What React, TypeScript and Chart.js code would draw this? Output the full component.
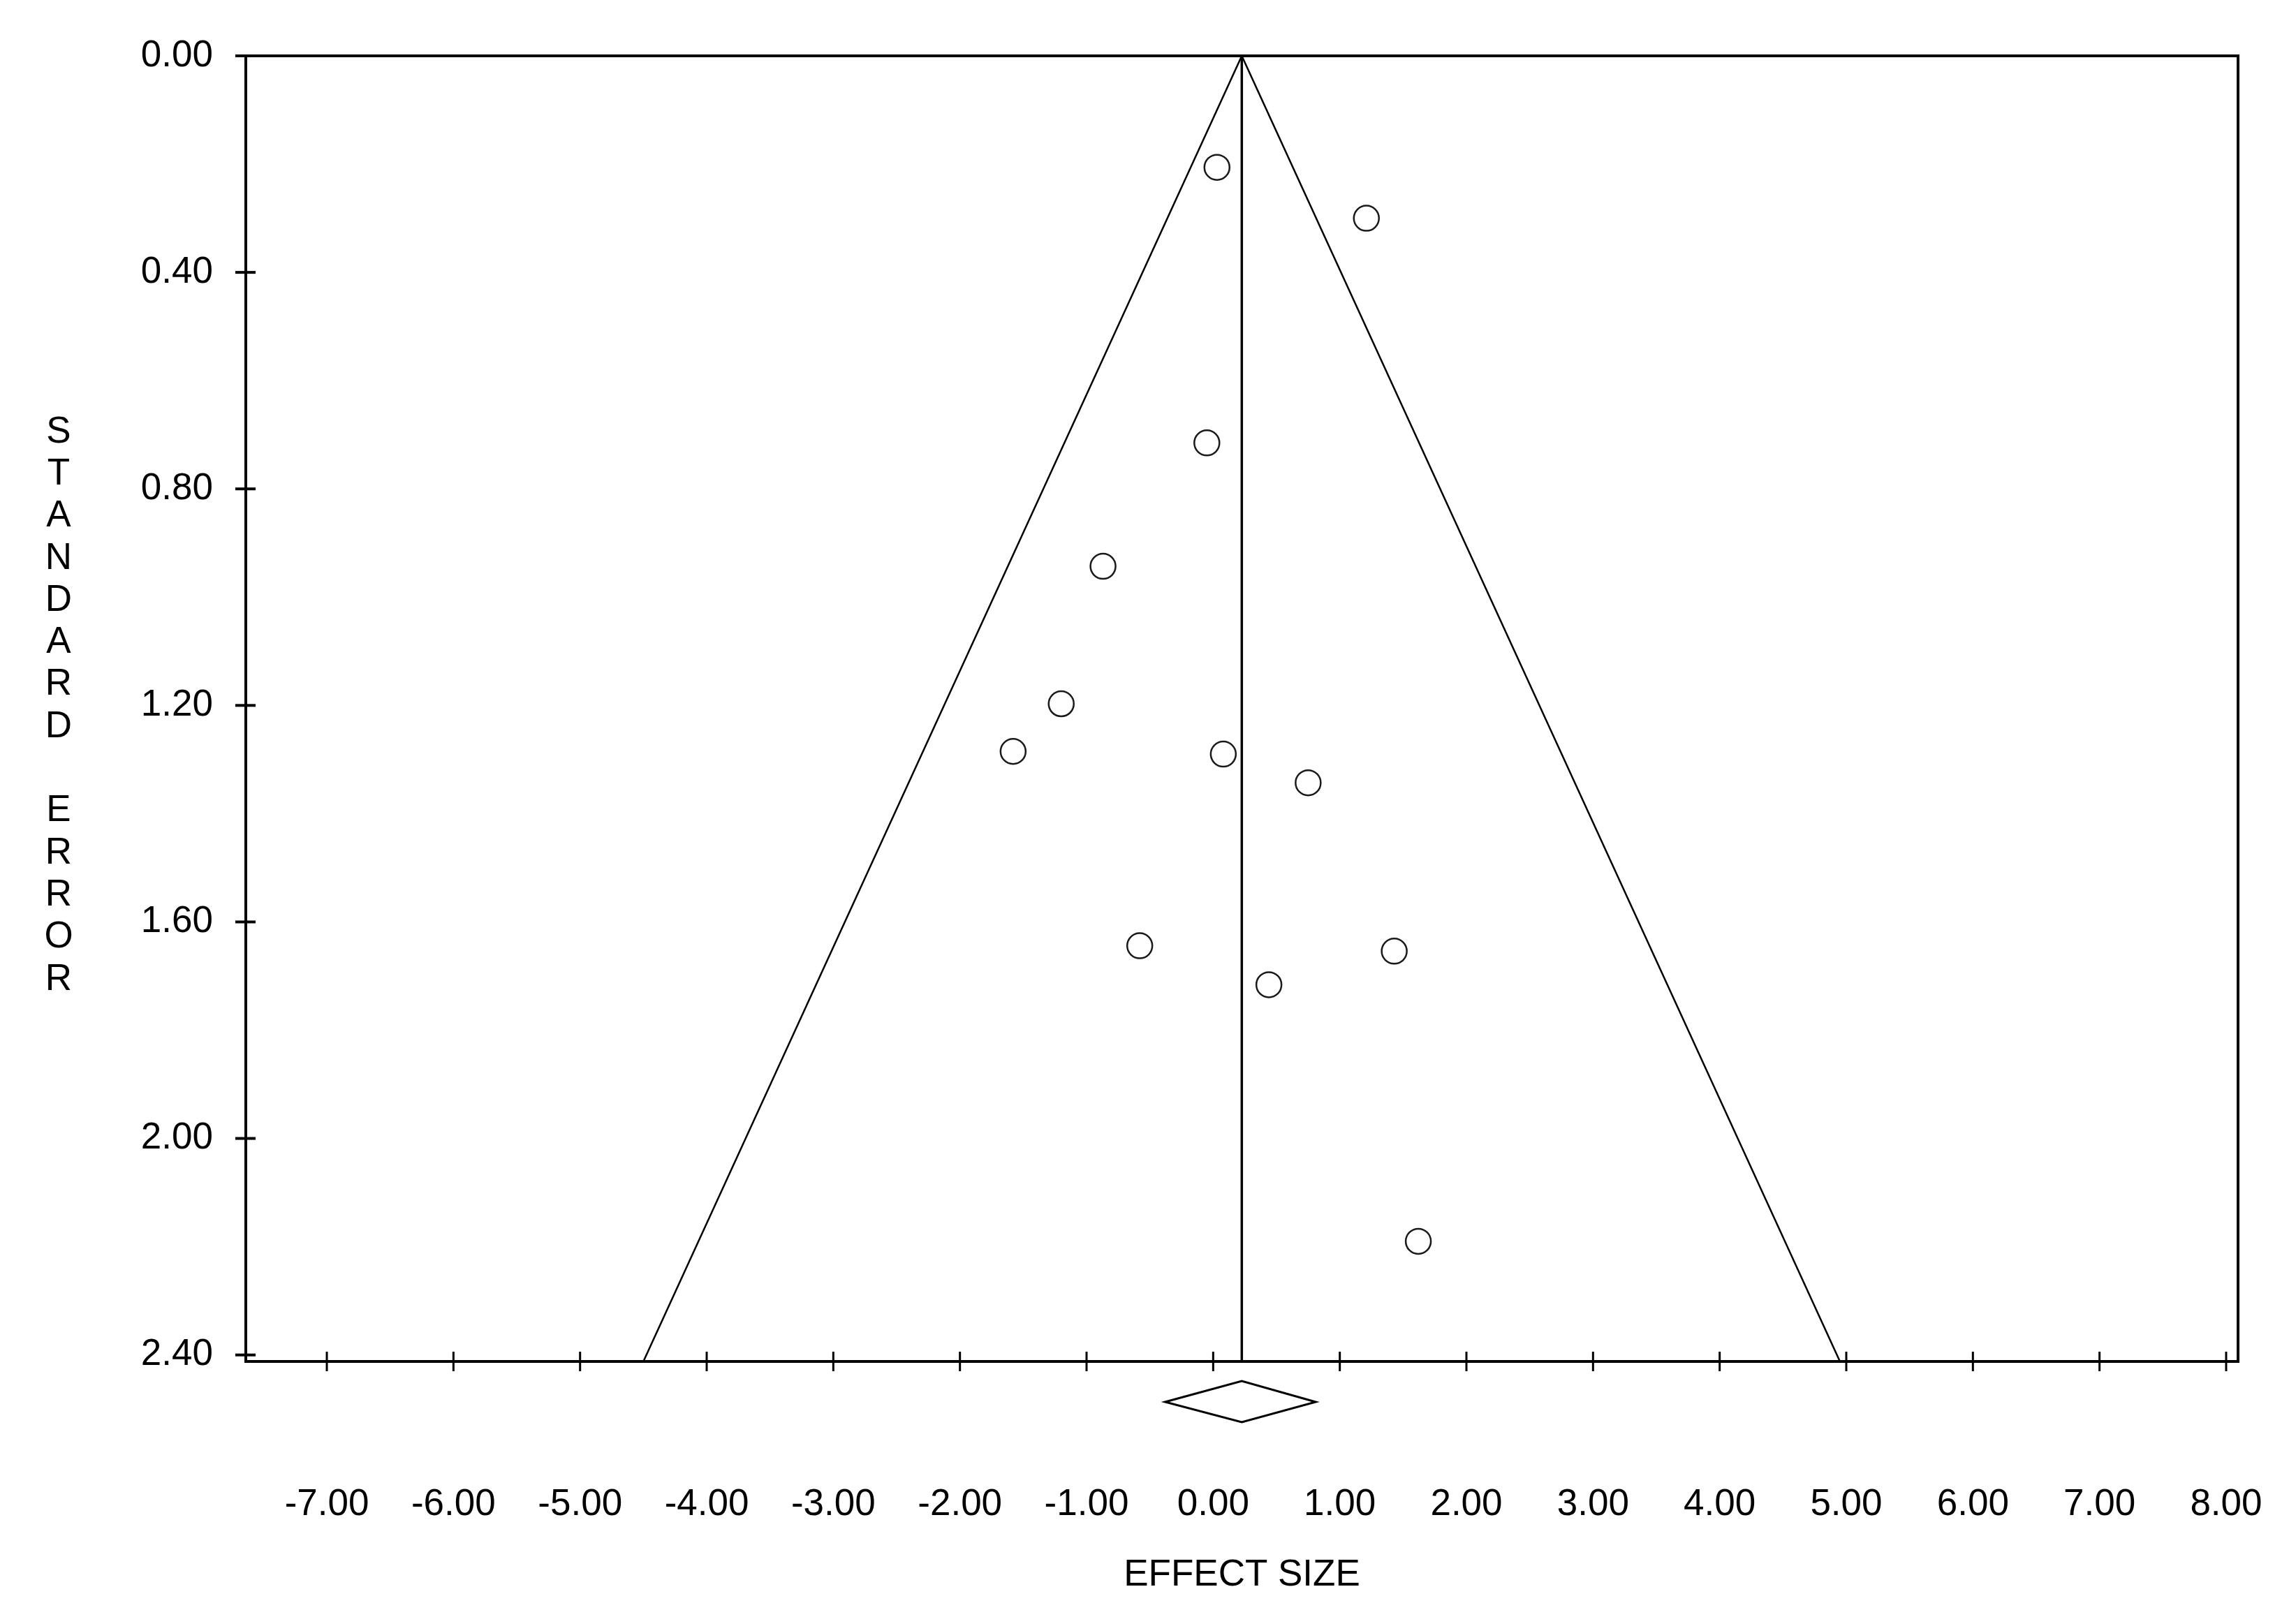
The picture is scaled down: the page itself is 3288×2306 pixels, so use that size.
import React, { useEffect, useRef } from "react";
import { Chart, registerables } from "chart.js";

Chart.register(...registerables);

// ---- data ----
const effectSizes = [0.03, 1.21, -0.05, -0.87, -1.2, -1.58, 0.08, 0.75, -0.58, 1.43, 0.44, 1.62];
const standardErrors = [0.206, 0.3, 0.715, 0.943, 1.197, 1.285, 1.29, 1.343, 1.644, 1.654, 1.716, 2.19];

const pooledEffect = 0.226;
const pooledCI = [-0.38, 0.81];
const funnelSE = [0, 2.412];
const funnelLeftX = [0.226, -4.5];
const funnelRightX = [0.226, 4.95];

const xTickValues = [-7, -6, -5, -4, -3, -2, -1, 0, 1, 2, 3, 4, 5, 6, 7, 8];
const yTickValues = [0, 0.4, 0.8, 1.2, 1.6, 2.0, 2.4];
const xAxisTitle = "EFFECT SIZE";
const yAxisTitle = "STANDARD ERROR";

const FONT = "'Liberation Sans', Arial, sans-serif";

const framePlugin = {
  id: "framePlugin",
  afterDraw(chart: any) {
    const { ctx, chartArea } = chart;
    const xs = chart.scales.x;
    const ys = chart.scales.y;
    const { left, right, top, bottom } = chartArea;
    ctx.save();
    ctx.strokeStyle = "#000";
    // frame
    ctx.lineWidth = 4;
    ctx.beginPath();
    ctx.moveTo(left, top);
    ctx.lineTo(right, top);
    ctx.lineTo(right, bottom);
    ctx.lineTo(left, bottom);
    ctx.closePath();
    ctx.stroke();
    // y ticks (crossing)
    ctx.lineWidth = 4;
    yTickValues.forEach((v) => {
      const y = ys.getPixelForValue(v);
      ctx.beginPath();
      ctx.moveTo(left - 15, y);
      ctx.lineTo(left + 14, y);
      ctx.stroke();
    });
    // x ticks (crossing)
    ctx.lineWidth = 3;
    xTickValues.forEach((v) => {
      const x = xs.getPixelForValue(v);
      ctx.beginPath();
      ctx.moveTo(x, bottom - 14);
      ctx.lineTo(x, bottom + 14);
      ctx.stroke();
    });
    // diamond for pooled estimate
    const cx = xs.getPixelForValue(pooledEffect);
    const lx = xs.getPixelForValue(pooledCI[0]);
    const rx = xs.getPixelForValue(pooledCI[1]);
    const midY = bottom + 58;
    ctx.lineWidth = 3;
    ctx.beginPath();
    ctx.moveTo(lx, midY);
    ctx.lineTo(cx, midY - 30);
    ctx.lineTo(rx, midY);
    ctx.lineTo(cx, midY + 29);
    ctx.closePath();
    ctx.stroke();
    // vertical y-axis title, stacked letters
    ctx.fillStyle = "#000";
    ctx.font = `53px ${FONT}`;
    ctx.textAlign = "center";
    ctx.textBaseline = "middle";
    const letters = yAxisTitle.split("");
    letters.forEach((ch, i) => {
      ctx.fillText(ch, 84, 619 + i * 60.3);
    });
    ctx.restore();
  },
};

export default function App() {
  const canvasRef = useRef<HTMLCanvasElement | null>(null);

  useEffect(() => {
    document.body.style.margin = "0";
    const canvas = canvasRef.current;
    if (!canvas) return;
    const points = effectSizes.map((x, i) => ({ x, y: standardErrors[i] }));
    const chart = new Chart(canvas, {
      type: "scatter",
      data: {
        datasets: [
          {
            label: "funnel-left",
            data: funnelSE.map((y, i) => ({ x: funnelLeftX[i], y })),
            showLine: true,
            borderColor: "#000",
            borderWidth: 2.5,
            pointRadius: 0,
          },
          {
            label: "funnel-right",
            data: funnelSE.map((y, i) => ({ x: funnelRightX[i], y })),
            showLine: true,
            borderColor: "#000",
            borderWidth: 2.5,
            pointRadius: 0,
          },
          {
            label: "pooled",
            data: funnelSE.map((y) => ({ x: pooledEffect, y })),
            showLine: true,
            borderColor: "#000",
            borderWidth: 3.5,
            pointRadius: 0,
          },
          {
            label: "studies",
            data: points,
            showLine: false,
            pointStyle: "circle",
            pointRadius: 18,
            pointBorderWidth: 2.5,
            borderColor: "#1a1a1a",
            backgroundColor: "rgba(0,0,0,0)",
          },
        ],
      } as any,
      options: {
        responsive: false,
        animation: false,
        devicePixelRatio: 1,
        layout: { padding: { top: 80, right: 83, left: 0, bottom: 0 } },
        plugins: {
          legend: { display: false },
          tooltip: { enabled: false },
          title: { display: false },
        },
        scales: {
          x: {
            type: "linear",
            min: -7.64,
            max: 8.094,
            border: { display: false },
            grid: { display: false, drawTicks: false },
            afterBuildTicks: (scale: any) => {
              scale.ticks = xTickValues.map((v) => ({ value: v }));
            },
            afterFit: (scale: any) => {
              scale.height = 356;
              scale.paddingLeft = 0;
              scale.paddingRight = 0;
            },
            ticks: {
              padding: 174,
              color: "#000",
              font: { family: FONT, size: 53 },
              maxRotation: 0,
              autoSkip: false,
              callback: (v: any) => Number(v).toFixed(2),
            },
            title: {
              display: true,
              text: xAxisTitle,
              color: "#000",
              font: { family: FONT, size: 53 },
              padding: { top: 30, bottom: 18 },
            },
          },
          y: {
            type: "linear",
            reverse: true,
            min: 0,
            max: 2.412,
            border: { display: false },
            grid: { display: false, drawTicks: false },
            afterBuildTicks: (scale: any) => {
              scale.ticks = yTickValues.map((v) => ({ value: v }));
            },
            afterFit: (scale: any) => {
              scale.width = 352;
              scale.paddingTop = 0;
              scale.paddingBottom = 0;
            },
            ticks: {
              padding: 47,
              color: "#000",
              font: { family: FONT, size: 53 },
              autoSkip: false,
              callback: (v: any) => Number(v).toFixed(2),
            },
          },
        },
      } as any,
      plugins: [framePlugin],
    });
    return () => chart.destroy();
  }, []);

  return (
    <div style={{ width: 3288, height: 2306, background: "#fff" }}>
      <canvas ref={canvasRef} width={3288} height={2306} style={{ display: "block" }} />
    </div>
  );
}
